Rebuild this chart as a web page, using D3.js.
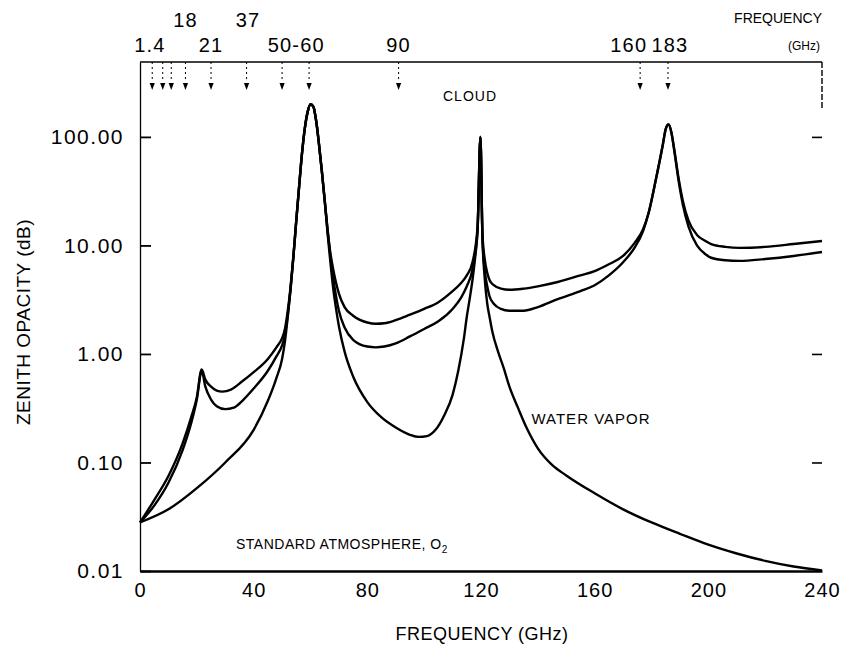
<!DOCTYPE html>
<html><head><meta charset="utf-8">
<script src="https://cdn.jsdelivr.net/npm/d3@7"></script>
<style>
html,body{margin:0;padding:0;background:#fff;}
svg{display:block;}
text{font-family:"Liberation Sans",Arial,Helvetica,sans-serif;fill:#000;}
</style></head>
<body><svg id="c" width="850" height="648"></svg>
<script>
// ---- data ----
const o2Freq = [0,10,20,30,40,45,48,50,51,52,53,54,55,56,57,58,59,60,61,62,63,64,65,66,67,68,69,70,72,75,80,85,90,95,98,101,104,107,110,112,114,115,116,117,118,118.8,119.8,120.5,121.3,122.2,123,124,126,128,130,133,136,140,145,150,160,170,180,190,200,210,220,230,240];
const o2Val  = [0.028,0.037,0.058,0.1,0.2,0.37,0.6,0.9,1.3,2.2,4,8,17,35,70,120,170,200,190,140,85,48,26,13,7,4,2.6,1.8,1.05,0.62,0.36,0.26,0.21,0.18,0.172,0.175,0.2,0.27,0.42,0.7,1.4,2.2,3.2,4.8,8,14,100,12,5,2.9,2.2,1.6,1.05,0.74,0.5,0.32,0.21,0.135,0.095,0.076,0.052,0.037,0.028,0.022,0.0175,0.0145,0.0124,0.011,0.0101];

const vaporFreq = [0,5,10,15,18,20,21.7,23,25,27,30,33,36,40,45,48,50,51,52,53,54,55,56,57,58,59,60,61,62,63,64,65,66,67,68,70,72,75,80,83,86,90,95,100,105,110,113,115,117,118.8,119.8,120.5,121.3,122.2,123,124.5,127,130,135,140,147,155,160,165,170,174,177,179,181.5,184,185,186,187,188,189.5,191,193,196,199,201,206,211,220,230,240];
const vaporVal  = [0.028,0.04,0.065,0.13,0.23,0.38,0.7,0.5,0.38,0.33,0.31,0.32,0.37,0.48,0.7,0.95,1.2,1.5,2.3,4,8,17,35,70,120,170,200,190,140,85,48,26,14,8,5,2.5,1.75,1.35,1.17,1.15,1.17,1.25,1.45,1.7,2.0,2.6,3.3,4.2,6,14,100,12,6,4.2,3.4,2.9,2.6,2.5,2.5,2.7,3.2,3.8,4.3,5.3,7,9.5,13.5,20,40,85,118,130,110,75,40,24,15,10,8.3,7.7,7.3,7.2,7.5,8,8.7];

const cloudFreq = [0,5,10,15,18,20,21.7,23,25,27,29,32,36,40,45,48,50,51,52,53,54,55,56,57,58,59,60,61,62,63,64,65,66,67,68,70,72,75,80,83,86,90,95,100,105,110,113,115,117,118.8,119.8,120.5,121.3,122.2,123,124.5,127,130,135,140,147,155,160,165,170,174,177,179,181.5,184,185,186,187,188,189.5,191,193,196,199,201,206,211,220,230,240];
const cloudVal  = [0.028,0.045,0.075,0.15,0.26,0.4,0.72,0.58,0.5,0.46,0.45,0.47,0.56,0.68,0.9,1.15,1.4,1.7,2.5,4.2,8,17,35,70,120,170,200,190,140,85,48,26,14,8.5,6,3.6,2.7,2.25,1.95,1.9,1.92,2.05,2.3,2.6,3.0,3.8,4.5,5.3,7,15,100,13,7.5,5.6,4.8,4.3,4.0,3.9,4.0,4.2,4.6,5.3,5.8,6.7,8,10.5,14,20,40,85,118,130,110,77,42,26,17,12.5,11,10.3,9.7,9.5,9.7,10.3,11];

const xTicks = [0,40,80,120,160,200,240];
const yTicks = [0.01,0.1,1,10,100];
const yTickLabels = ["0.01","0.10","1.00","10.00","100.00"];
const xDomain = [0,240];
const yDomain = [0.01,490];

// top band markers (frequency positions)
const markerFreq = [4.3,8.0,11.0,16.0,25.0,37.5,50.0,59.5,91.0,176.0,185.8];
const topLabels = ["1.4","18","21","37","50-60","90","160","183"];
const topLabelFreq = [3.5,16,25,38,55,91,172,186.5];
const topLabelRow = [1,0,1,0,1,1,1,1];

// ---- layout ----
const W=850,H=648;
const m={left:140,right:28,top:62,bottom:77};
const svg=d3.select("#c");
const x=d3.scaleLinear().domain(xDomain).range([m.left,W-m.right]);
const y=d3.scaleLog().domain(yDomain).range([H-m.bottom,m.top]);

// axes
const xAxis=d3.axisBottom(x).tickValues(xTicks).tickSize(0).tickPadding(12).tickFormat(d3.format("d"));
const gx=svg.append("g").attr("transform",`translate(0,${H-m.bottom})`).call(xAxis);
gx.select(".domain").attr("stroke","#000").attr("stroke-width",2.4);
gx.selectAll("text").attr("font-size",20).attr("letter-spacing",1).attr("font-family","Liberation Sans, Arial, sans-serif");

const yAxis=d3.axisLeft(y).tickValues(yTicks).tickSize(-11).tickSizeOuter(0).tickPadding(16)
  .tickFormat((d,i)=>yTickLabels[i]);
const gy=svg.append("g").attr("transform",`translate(${m.left},0)`).call(yAxis);
gy.select(".domain").attr("stroke","#000").attr("stroke-width",1.3);
gy.selectAll(".tick line").attr("stroke","#000").attr("stroke-width",1.8);
gy.selectAll("text").attr("font-size",21).attr("letter-spacing",1.5).attr("font-family","Liberation Sans, Arial, sans-serif");

// right side ticks (inward)
const yAxisR=d3.axisRight(y).tickValues([0.1,1,100]).tickSize(-10).tickFormat("");
const gr=svg.append("g").attr("transform",`translate(${W-m.right},0)`).call(yAxisR);
gr.select(".domain").remove();
gr.selectAll(".tick line").attr("stroke","#000").attr("stroke-width",1.6);
svg.append("line").attr("x1",W-m.right).attr("x2",W-m.right).attr("y1",m.top).attr("y2",m.top+46)
  .attr("stroke","#000").attr("stroke-width",1.4).attr("stroke-dasharray","6,2");

// top axis line
svg.append("line").attr("x1",m.left).attr("x2",W-m.right).attr("y1",m.top).attr("y2",m.top)
  .attr("stroke","#000").attr("stroke-width",1.6);

// markers
const mk=svg.append("g");
markerFreq.forEach(f=>{
  const px=x(f);
  mk.append("line").attr("x1",px).attr("x2",px).attr("y1",m.top).attr("y2",m.top+20)
    .attr("stroke","#000").attr("stroke-width",1).attr("stroke-dasharray","2,3");
  mk.append("path").attr("d",`M${px-2.6},${m.top+21}L${px+2.6},${m.top+21}L${px},${m.top+28}Z`).attr("fill","#000");
});

// top labels
topLabels.forEach((t,i)=>{
  svg.append("text").attr("x",x(topLabelFreq[i])).attr("y",topLabelRow[i]?52:27)
    .attr("text-anchor","middle").attr("font-size",20).attr("letter-spacing",1.2).text(t);
});
svg.append("text").attr("x",822).attr("y",23).attr("text-anchor","end").attr("font-size",14).text("FREQUENCY");
svg.append("text").attr("x",820).attr("y",50).attr("text-anchor","end").attr("font-size",12).text("(GHz)");

// curves
const line=d3.line().x(d=>x(d[0])).y(d=>y(d[1])).curve(d3.curveMonotoneX);
const series=[[o2Freq,o2Val],[vaporFreq,vaporVal],[cloudFreq,cloudVal]];
series.forEach(([f,v])=>{
  svg.append("path").datum(f.map((d,i)=>[d,v[i]])).attr("d",line)
    .attr("fill","none").attr("stroke","#000").attr("stroke-width",2.4).attr("stroke-linejoin","round");
});

// annotations
svg.append("text").attr("x",470).attr("y",101).attr("text-anchor","middle").attr("font-size",14).attr("letter-spacing",1).text("CLOUD");
svg.append("text").attr("x",591).attr("y",424).attr("text-anchor","middle").attr("font-size",15).attr("letter-spacing",1).text("WATER VAPOR");
const sa=svg.append("text").attr("x",236).attr("y",549).attr("font-size",14).attr("letter-spacing",0.5);
sa.append("tspan").text("STANDARD ATMOSPHERE, O");
sa.append("tspan").attr("font-size",10).attr("dy",4).text("2");

// axis titles
svg.append("text").attr("x",482).attr("y",640).attr("text-anchor","middle").attr("font-size",18).attr("letter-spacing",0.5).text("FREQUENCY (GHz)");
svg.append("text").attr("transform","translate(30,322) rotate(-90)").attr("text-anchor","middle").attr("font-size",19).attr("letter-spacing",0.5).text("ZENITH OPACITY (dB)");
</script></body></html>
